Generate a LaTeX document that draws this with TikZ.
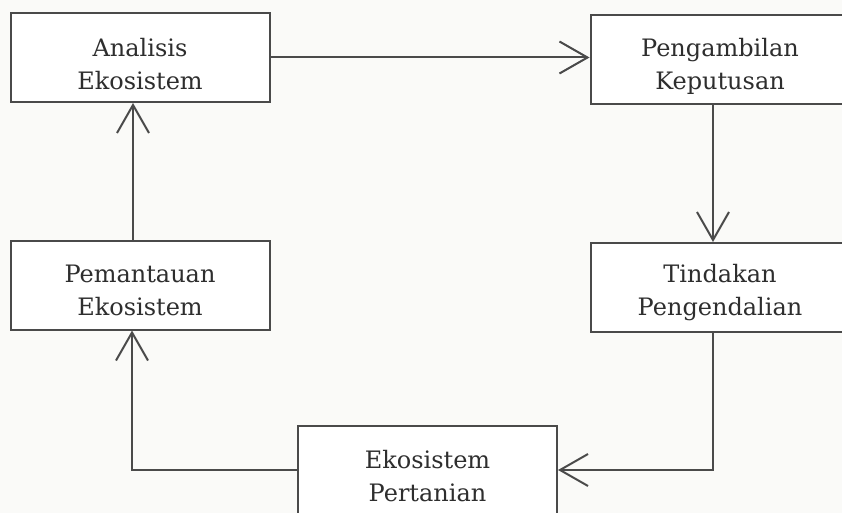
\documentclass[tikz,border=0pt]{standalone}
\usepackage{fontspec}
\setmainfont{DejaVu Serif}
\usetikzlibrary{arrows.meta,calc}
\definecolor{ink}{HTML}{4A4A4A}
\definecolor{txt}{HTML}{2E2E2E}
\definecolor{paper}{HTML}{FAFAF8}
\tikzset{
  box/.style={draw=ink, line width=2pt, fill=white,
    minimum width=259pt, minimum height=89pt, inner sep=0pt},
  boxtext/.style={text=txt, align=center, inner sep=0pt,
    font=\fontsize{24}{33}\selectfont},
  flow/.style={draw=ink, line width=2pt,
    -{Straight Barb[length=28pt,width=32pt,line width=2pt]}}
}
\begin{document}
\begin{tikzpicture}[x=1pt,y=-1pt]
  \fill[paper] (0,0) rectangle (842,513);
  \useasboundingbox (0,0) rectangle (842,513);

  % boxes
  \node[box] (ana)  at (140,57.5)  {};
  \node[box] (peng) at (720,60)    {};
  \node[box] (tind) at (720,287.5) {};
  \node[box] (pem)  at (140,285)   {};
  \node[box] (eko)  at (427.5,470) {};

  % box labels, set a little below the middle
  \node[boxtext] (ana-t)  at ([yshift=-7pt]ana.center)  {Analisis\\Ekosistem};
  \node[boxtext] (peng-t) at ([yshift=-6pt]peng.center) {Pengambilan\\Keputusan};
  \node[boxtext] (tind-t) at ([yshift=-5pt]tind.center) {Tindakan\\Pengendalian};
  \node[boxtext] (pem-t)  at ([yshift=-5pt]pem.center)  {Pemantauan\\Ekosistem};
  \node[boxtext] (eko-t)  at ([yshift=-6pt]eko.center)  {Ekosistem\\Pertanian};

  % cycle of connectors
  \draw[flow] (ana.east) -- (peng.west |- ana.east);
  \draw[flow] ([xshift=-7pt]peng.south) -- ([xshift=-7pt]tind.north);
  \draw[flow] ([xshift=-7pt]tind.south) |- (eko.east);
  \draw[flow] (eko.west) -| ([xshift=-8pt]pem.south);
  \draw[flow] ([xshift=-7pt]pem.north) -- ([xshift=-7pt]ana.south);
\end{tikzpicture}
\end{document}
